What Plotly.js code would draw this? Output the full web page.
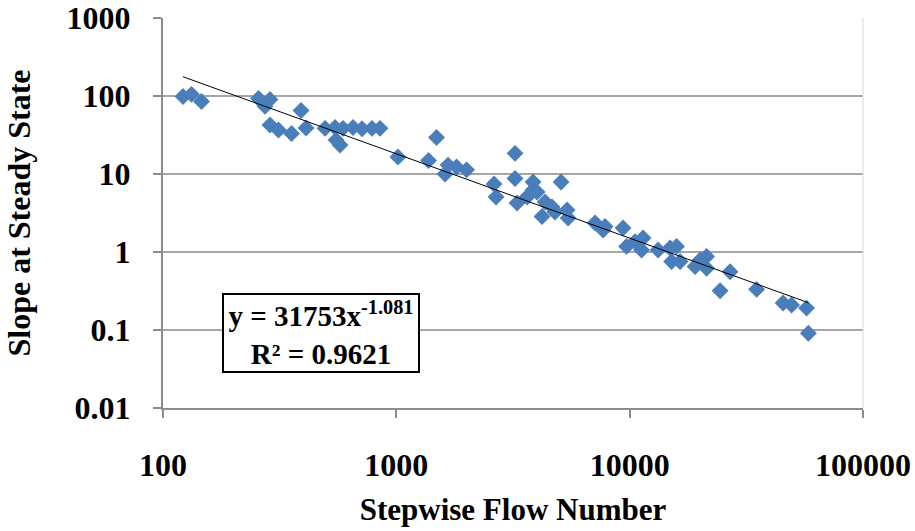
<!DOCTYPE html>
<html>
<head>
<meta charset="utf-8">
<script src="https://cdn.plot.ly/plotly-3.0.1.min.js"></script>
<style>html,body{margin:0;padding:0;background:#fff;}#chart{width:915px;height:531px;}</style>
</head>
<body>
<div id="chart"></div>
<script>
// Stepwise Flow Number (x) vs Slope at Steady State (y)
const flowNumber = [121.8, 132.5, 146.2, 256.7, 287.4, 273.7, 287.4, 312.6, 355.5, 390.5,
  410.2, 494.9, 546.1, 590.9, 652.2, 712.8, 786.8, 851.4, 573.7, 551.5,
  1016, 1487, 1374, 1617, 1666, 1811, 2000, 3227, 3227, 3854,
  5082, 2623, 2675, 3854, 3291, 4339, 4212, 4648, 5391, 5445,
  7108, 7847, 9370, 7691, 9698, 10546, 11413, 11246, 13235, 14901,
  15887, 15123, 16444, 19070, 20035, 21362, 21362, 24413, 26935, 34991,
  45440, 49430, 57300, 58340, 3633, 4009, 4788];
const slopeSteady = [98.5, 105, 85, 92.9, 90, 74, 42.5, 36.6, 33.0, 65.2,
  38.9, 38.5, 39.5, 38.5, 39.5, 38, 38.5, 38.5, 23.5, 27.3,
  16.5, 29.4, 14.9, 10, 13.0, 12.3, 11.3, 18.4, 8.76, 7.89,
  7.89, 7.45, 5.07, 6.23, 4.25, 4.37, 2.85, 3.78, 3.45, 2.73,
  2.35, 2.12, 2.03, 1.91, 1.18, 1.36, 1.51, 1.06, 1.06, 1.125,
  1.18, 0.755, 0.755, 0.652, 0.79, 0.876, 0.618, 0.319, 0.559, 0.332,
  0.222, 0.209, 0.191, 0.0907, 5.07, 5.88, 3.26];

// Power trendline y = a * x^b (coefficients shown on the chart)
const fitA = 31753;
const fitB = -1.081;
const fitR2 = 0.9621;

const xTickVals = [100, 1000, 10000, 100000];
const xTickText = ['100', '1000', '10000', '100000'];
const yTickVals = [0.01, 0.1, 1, 10, 100, 1000];
const yTickText = ['0.01', '0.1', '1', '10', '100', '1000'];

const xMin = Math.min.apply(null, flowNumber);
const xMax = Math.max.apply(null, flowNumber);
const trendX = [xMin, xMax];
const trendY = trendX.map(v => fitA * Math.pow(v, fitB));

const serif = 'Liberation Serif, Times New Roman, serif';
const axisGray = '#8c8c8c';

const traces = [
  {
    x: flowNumber, y: slopeSteady, type: 'scatter', mode: 'markers',
    marker: {symbol: 'diamond', size: 13, color: '#4a7ebb', line: {width: 0}},
    hoverinfo: 'x+y', showlegend: false
  },
  {
    x: trendX, y: trendY, type: 'scatter', mode: 'lines',
    line: {color: '#000000', width: 1}, hoverinfo: 'skip', showlegend: false
  }
];

const layout = {
  width: 915, height: 531,
  margin: {l: 163, r: 52, t: 18, b: 123},
  paper_bgcolor: '#ffffff', plot_bgcolor: '#ffffff',
  showlegend: false,
  xaxis: {
    type: 'log', range: [2, 5],
    tickmode: 'array', tickvals: xTickVals, ticktext: xTickText,
    showgrid: false, zeroline: false,
    showline: true, linecolor: axisGray, linewidth: 2,
    ticks: 'outside', ticklen: 8, tickwidth: 2, tickcolor: axisGray,
    ticklabelstandoff: 20,
    tickfont: {family: serif, size: 32, weight: 'bold', color: '#000'},
    title: {text: 'Stepwise Flow Number', standoff: 16,
            font: {family: serif, size: 31, weight: 'bold', color: '#000'}}
  },
  yaxis: {
    type: 'log', range: [-2, 3],
    tickmode: 'array', tickvals: yTickVals, ticktext: yTickText,
    showgrid: true, gridcolor: '#a6a6a6', gridwidth: 1.3, zeroline: false,
    showline: true, linecolor: axisGray, linewidth: 2,
    ticks: 'outside', ticklen: 8, tickwidth: 2, tickcolor: axisGray,
    ticklabelstandoff: 16,
    tickfont: {family: serif, size: 32, weight: 'bold', color: '#000'},
    title: {text: 'Slope at Steady State', standoff: 26,
            font: {family: serif, size: 32, weight: 'bold', color: '#000'}}
  },
  shapes: [
    {type: 'line', xref: 'paper', yref: 'paper', x0: 1, x1: 1, y0: 0, y1: 1,
     line: {color: '#d9d9d9', width: 1}}
  ],
  annotations: [
    {
      xref: 'paper', yref: 'paper', x: 0.2257, y: 0.1923,
      xanchor: 'center', yanchor: 'middle', showarrow: false,
      text: 'y = ' + fitA + 'x<sup>' + fitB + '</sup><br>R² = ' + fitR2,
      align: 'center', width: 192, height: 74,
      bgcolor: '#ffffff', bordercolor: '#000000', borderwidth: 2, borderpad: 1,
      font: {family: serif, size: 29, weight: 'bold', color: '#000'}
    }
  ]
};

Plotly.newPlot('chart', traces, layout, {displayModeBar: false, staticPlot: true});
</script>
</body>
</html>
